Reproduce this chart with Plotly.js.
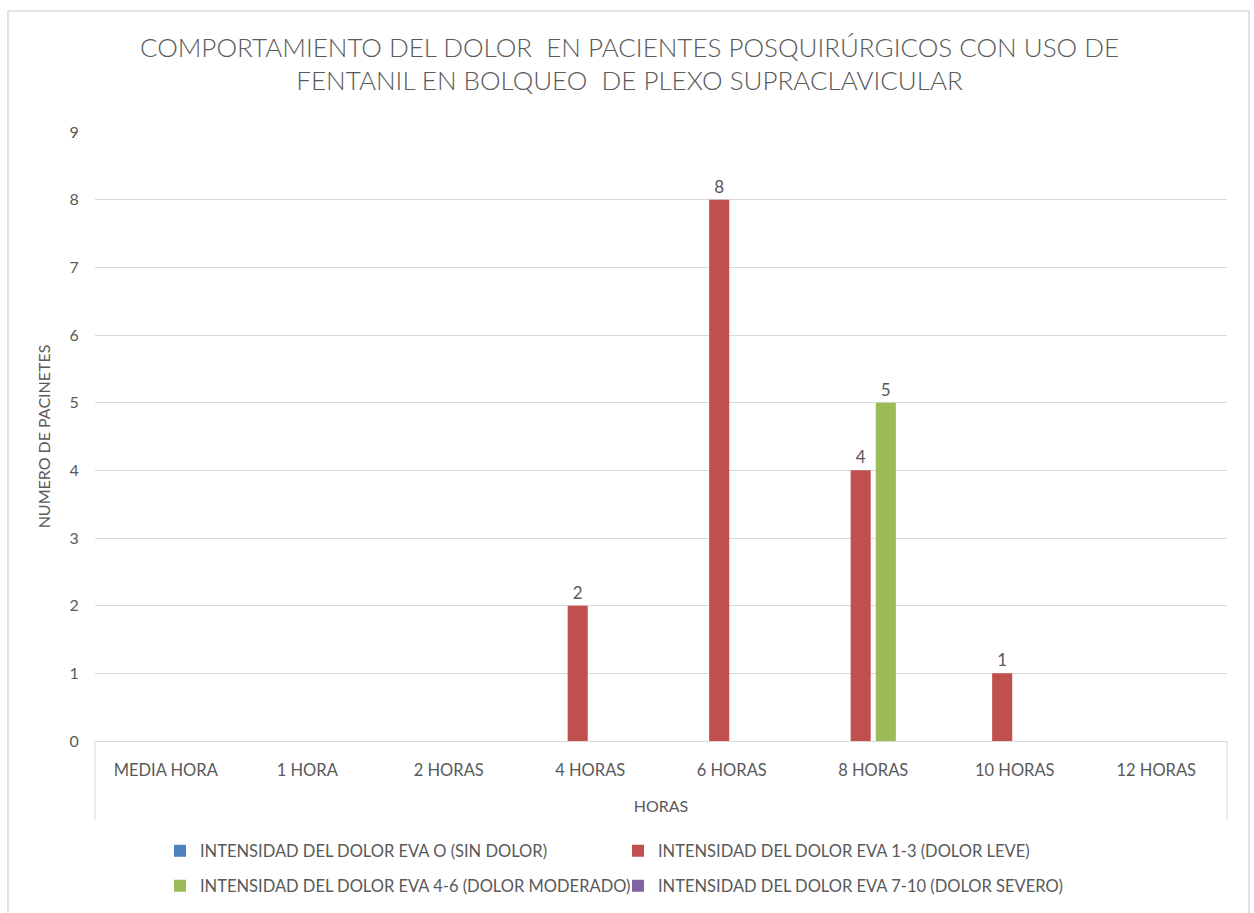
<!DOCTYPE html>
<html><head><meta charset="utf-8">
<script src="https://cdn.plot.ly/plotly-3.0.1.min.js"></script>
<style>html,body{margin:0;padding:0;background:#fff}#chart{width:1254px;height:913px}</style>
</head><body><div id="chart"></div>
<script>
const categories = ['MEDIA HORA','1 HORA','2 HORAS','4 HORAS','6 HORAS','8 HORAS','10 HORAS','12 HORAS'];
const seriesNames = [
  'INTENSIDAD DEL DOLOR EVA O (SIN DOLOR)',
  'INTENSIDAD DEL DOLOR EVA 1-3 (DOLOR LEVE)',
  'INTENSIDAD DEL DOLOR EVA 4-6 (DOLOR MODERADO)',
  'INTENSIDAD DEL DOLOR EVA 7-10 (DOLOR SEVERO)'
];
const sinDolor  = [0,0,0,0,0,0,0,0];
const leve      = [0,0,0,2,8,4,1,0];
const moderado  = [0,0,0,0,0,5,0,0];
const severo    = [0,0,0,0,0,0,0,0];
const colors = ['#4F81BD','#C0504D','#9BBB59','#8064A2'];
const allSeries = [sinDolor, leve, moderado, severo];
const legendIds = ['legend','legend','legend2','legend2'];

const FONT = 'Lato, "Open Sans", sans-serif';
const TXT = '#595959';

const traces = allSeries.map((vals,i)=>({
  type:'bar', name: seriesNames[i], x: categories, y: vals,
  marker:{color: colors[i]},
  legend: legendIds[i],
  text: vals.map(v => v > 0 ? String(v) : ''),
  textposition:'outside', cliponaxis:false,
  textfont:{family:FONT, size:17, color:TXT},
  hoverinfo:'x+y+name'
}));

const legendBase = {orientation:'h', xref:'container', yref:'container', x:160/1254, xanchor:'left', yanchor:'middle',
    entrywidth:413, font:{family:FONT, size:16.5, color:TXT}, itemwidth:30, traceorder:'normal', bgcolor:'rgba(0,0,0,0)'};

const layout = {
  width:1254, height:913,
  margin:{l:95, r:27, t:132, b:172},
  paper_bgcolor:'#fff', plot_bgcolor:'#fff',
  font:{family:FONT, color:TXT},
  title:{text:'COMPORTAMIENTO DEL DOLOR  EN PACIENTES POSQUIRÚRGICOS CON USO DE<br>FENTANIL EN BOLQUEO  DE PLEXO SUPRACLAVICULAR',
    font:{family:FONT, size:26, color:TXT, weight:300}, x:0.502, xanchor:'center', xref:'container', yref:'container', y:0.938, yanchor:'top'},
  barmode:'group', bargap:0.29, bargroupgap:0.2,
  xaxis:{
    type:'category', showgrid:false, zeroline:false,
    showline:false,
    tickfont:{family:FONT, size:16.5, color:TXT},
    ticks:'outside', ticklen:14, tickcolor:'rgba(0,0,0,0)',
    title:{text:'HORAS', font:{family:FONT, size:16, color:TXT}, standoff:22}
  },
  yaxis:{
    range:[0,9], dtick:1, showgrid:true, gridcolor:'#d9d9d9', gridwidth:1,
    zeroline:true, zerolinecolor:'#d9d9d9', zerolinewidth:1, showline:false,
    tickfont:{family:FONT, size:16, color:TXT},
    ticks:'outside', ticklen:12, tickcolor:'rgba(0,0,0,0)',
    title:{text:'NUMERO DE PACINETES', font:{family:FONT, size:16, color:TXT}, standoff:14}
  },
  legend: Object.assign({}, legendBase, {y:1-851/913}),
  legend2: Object.assign({}, legendBase, {y:1-886/913}),
  showlegend:true,
  shapes:[
    {type:'rect', xref:'paper', yref:'paper', x0:-0.0769, x1:1.0194, y0:-0.4, y1:1.1987, line:{color:'#d9d9d9', width:1.5}, layer:'below'},
    {type:'line', xref:'paper', yref:'paper', x0:0, x1:0, y0:0, y1:-0.13, line:{color:'#d9d9d9', width:1}},
    {type:'line', xref:'paper', yref:'paper', x0:1, x1:1, y0:0, y1:-0.13, line:{color:'#d9d9d9', width:1}}
  ]
};
Plotly.newPlot('chart', traces, layout, {displayModeBar:false, staticPlot:true});
</script></body></html>
